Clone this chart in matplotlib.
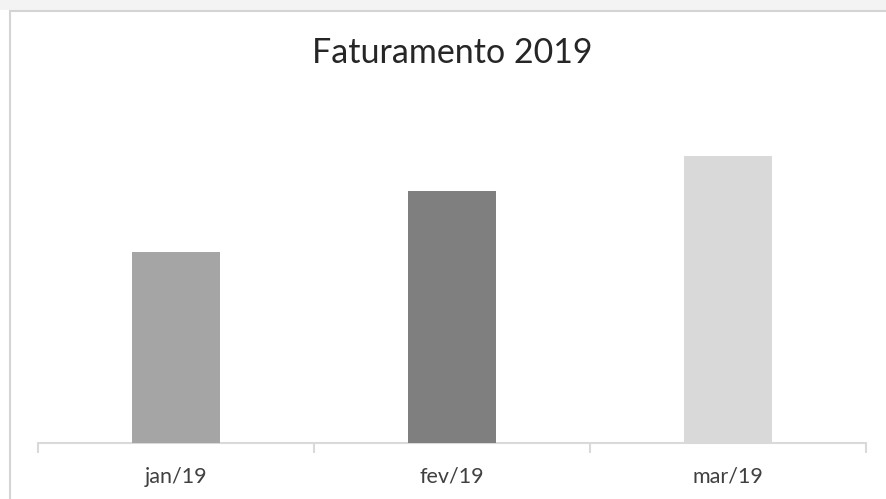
import matplotlib as mpl
mpl.use('Agg')
import matplotlib.pyplot as plt
from matplotlib.patches import Rectangle

# Data
months = ["jan/19", "fev/19", "mar/19"]
revenue = [10000, 13200, 15000]
bar_colors = ["#A5A5A5", "#7F7F7F", "#D9D9D9"]

W, H = 886, 499
fig = plt.figure(figsize=(W / 100, H / 100), dpi=100)
fig.patch.set_facecolor("white")

# top shadow strip and chart border
fig.patches.append(Rectangle((0, 1 - 10 / H), 1, 10 / H, transform=fig.transFigure,
                             facecolor="#F3F3F3", edgecolor="none", zorder=0))
fig.patches.append(Rectangle((9.5 / W, -0.1), 1.2, 1 + 0.1 - 10.5 / H, transform=fig.transFigure,
                             facecolor="white", edgecolor="#D4D4D4", linewidth=1.5, zorder=1))

ax = fig.add_axes([38 / W, (H - 443) / H, (866 - 38) / W, (443 - 99) / H])
ax.set_zorder(2)
ax.patch.set_alpha(0)

x = range(len(months))
ax.bar(x, revenue, width=0.32, color=bar_colors, zorder=3)

ax.set_xlim(-0.5, len(months) - 0.5)
ax.set_ylim(0, 18000)

for s in ["top", "right", "left"]:
    ax.spines[s].set_visible(False)
ax.spines["bottom"].set_color("#D9D9D9")
ax.spines["bottom"].set_linewidth(1.5)
ax.set_yticks([])

ax.set_xticks(list(x))
ax.set_xticklabels(months, fontsize=15.5, color="#404040", family="Lato")
ax.tick_params(axis="x", length=0, pad=17)
# boundary tick marks between categories
ax.set_xticks([i - 0.5 for i in range(len(months) + 1)], minor=True)
ax.tick_params(axis="x", which="minor", length=7, width=1.5, color="#D9D9D9")

fig.text(452 / W, 1 - 53 / H, "Faturamento 2019", ha="center", va="center",
         fontsize=24.5, color="#262626", family="Lato")

fig.savefig("out.png", dpi=100)
